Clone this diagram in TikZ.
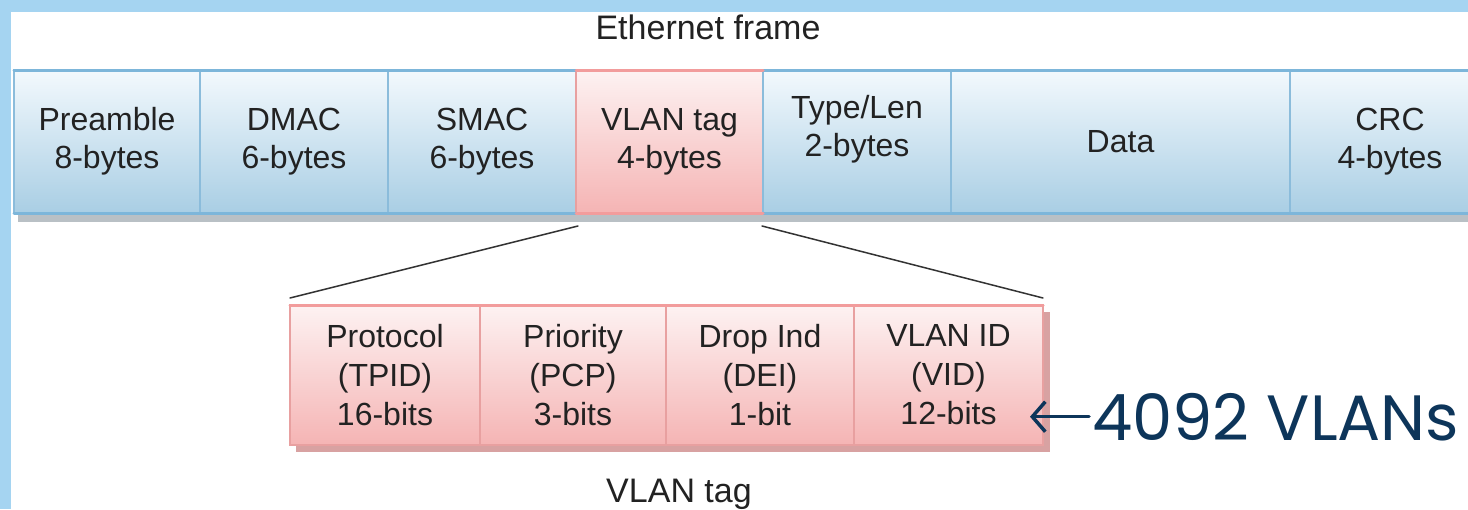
\documentclass[tikz,border=0pt]{standalone}
\usepackage{fontspec}
\setmainfont{Liberation Sans}
\newfontfamily\vlanfont{Poppins}
\usetikzlibrary{arrows.meta,positioning}
\definecolor{slideblue}{HTML}{A5D4F1}
\definecolor{fieldtop}{HTML}{F3F9FD}
\definecolor{fieldbot}{HTML}{A9CEE4}
\definecolor{fieldedge}{HTML}{8BBCDB}
\definecolor{fieldrim}{HTML}{7DB6DA}
\definecolor{tagtop}{HTML}{FDF2F2}
\definecolor{tagbot}{HTML}{F5B4B4}
\definecolor{tagedge}{HTML}{E8A0A0}
\definecolor{tagrim}{HTML}{F29C9C}
\definecolor{shadowgrey}{HTML}{B9C0C5}
\definecolor{tagshadow}{HTML}{D8A2A2}
\definecolor{linkgrey}{HTML}{333333}
\definecolor{inktext}{HTML}{222222}
\definecolor{navy}{HTML}{0D355A}

\tikzset{
  field/.style={draw=fieldedge, line width=1.2, top color=fieldtop, bottom color=fieldbot,
    minimum height=143, inner sep=0, outer sep=0, align=center, text=inktext,
    font=\fontsize{32}{38}\selectfont},
  tagfield/.style={field, draw=tagedge, top color=tagtop, bottom color=tagbot},
  subfield/.style={tagfield, minimum height=140, font=\fontsize{32}{39}\selectfont},
  caption/.style={text=inktext, inner sep=0, font=\fontsize{34}{40}\selectfont},
}

\begin{document}
\begin{tikzpicture}[x=1pt, y=-1pt, line cap=round]
  \useasboundingbox (0,0) rectangle (1468,509);
  % slide background
  \fill[slideblue] (0,0) rectangle (1468,509);
  \fill[white] (11,12) rectangle (1468,509);
  \clip (0,0) rectangle (1468,509);

  % ethernet frame
  \node[caption] (ethlabel) at (708,27) {Ethernet frame};
  \fill[shadowgrey] (18,80) rectangle (1468,222);
  \node[field, minimum width=186, anchor=north west] (pre) at (14,70) {Preamble\\8-bytes};
  \node[field, minimum width=188, right=0pt of pre] (dmac) {DMAC\\6-bytes};
  \node[field, minimum width=188, right=0pt of dmac] (smac) {SMAC\\6-bytes};
  \node[tagfield, minimum width=187, right=0pt of smac] (tag) {VLAN tag\\4-bytes};
  \node[field, minimum width=188, text depth=31pt, right=0pt of tag] (type) {Type/Len\\2-bytes};
  \node[field, minimum width=339, right=0pt of type] (data) {Data};
  \node[field, minimum width=200, right=0pt of data] (crc) {CRC\\4-bytes};
  \draw[fieldrim, line width=3] (pre.north west) -- (smac.north east);
  \draw[fieldrim, line width=3] (type.north west) -- (crc.north east);
  \draw[fieldrim, line width=3] (pre.south west) -- (smac.south east);
  \draw[fieldrim, line width=3] (type.south west) -- (crc.south east);
  \draw[tagrim, line width=3] (tag.north west) -- (tag.north east);
  \draw[tagrim, line width=3] (tag.south west) -- (tag.south east);

  % vlan tag fields
  \fill[tagshadow] (296,312) rectangle (1050,452);
  \node[subfield, minimum width=190, anchor=north west] (tpid) at (290,305) {Protocol\\(TPID)\\16-bits};
  \node[subfield, minimum width=186, right=0pt of tpid] (pcp) {Priority\\(PCP)\\3-bits};
  \node[subfield, minimum width=188, right=0pt of pcp] (dei) {Drop Ind\\(DEI)\\1-bit};
  \node[subfield, minimum width=189, right=0pt of dei] (vid) {VLAN ID\\(VID)\\12-bits};
  \draw[tagrim, line width=3] (tpid.north west) -- (vid.north east);
  \node[caption, anchor=base] (taglabel) at (679,502) {VLAN tag};

  % zoom lines
  \draw[linkgrey, line width=1.5] ([xshift=2pt, yshift=-13pt]tag.south west) -- ([yshift=7pt]tpid.north west);
  \draw[linkgrey, line width=1.5] ([xshift=-1pt, yshift=-13pt]tag.south east) -- ([yshift=7pt]vid.north east);

  % vlan count
  \node[anchor=base west, inner sep=0, text=navy, font=\vlanfont\fontsize{64}{70}\selectfont] (vlans) at (1092,440) {4092 VLANs};
  \draw[navy, line width=3.5, -{Straight Barb[length=13pt, width=30pt, line width=3.5pt]}]
    ([xshift=-3pt]vlans.west) -- ([xshift=-13pt]vlans.west -| vid.east);
\end{tikzpicture}
\end{document}
